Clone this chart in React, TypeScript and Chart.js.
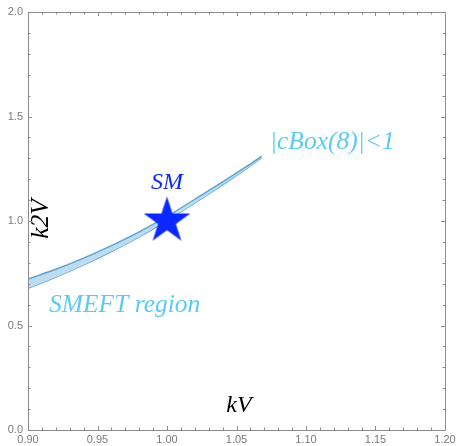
import { useEffect, useRef } from "react";
import { Chart, registerables } from "chart.js";

Chart.register(...registerables);

// Allowed band in the (kV, k2V) plane
const kV = [0.90, 0.92, 0.94, 0.96, 0.98, 1.00, 1.02, 1.04, 1.06, 1.068];
const k2VUpper = [0.722, 0.769, 0.822, 0.882, 0.948, 1.022, 1.104, 1.187, 1.273, 1.309];
const k2VLower = [0.678, 0.731, 0.790, 0.854, 0.924, 1.002, 1.086, 1.173, 1.263, 1.303];

// Standard Model point
const smKV = [1.0];
const smK2V = [1.0];

// Labelled axis ticks
const xMajorTicks = [0.90, 0.95, 1.00, 1.05, 1.10, 1.15, 1.20];
const yMajorTicks = [0.0, 0.5, 1.0, 1.5, 2.0];

const BAND_EDGE = "#5aa2cf";
const BAND_FILL = "#bddcf0";
const SM_BLUE = "#0a28ff";
const LIGHT_BLUE = "#5ccbf2";
const FRAME = "#8c8c8c";
const TICK_TEXT = "#7a7a7a";

type Note = {
  text: string;
  x: number;
  y: number;
  color: string;
  size: number;
  align: CanvasTextAlign;
  rotate?: boolean;
};

// In-plot annotations (data coordinates of the text baseline anchor)
const notes: Note[] = [
  { text: "SM", x: 1.0, y: 1.153, color: SM_BLUE, size: 24, align: "center" },
  { text: "|cBox(8)|<1", x: 1.0741, y: 1.344, color: LIGHT_BLUE, size: 25.5, align: "left" },
  { text: "SMEFT region", x: 0.9151, y: 0.5646, color: LIGHT_BLUE, size: 25.5, align: "left" },
  { text: "kV", x: 1.0518, y: 0.086, color: "#000000", size: 24, align: "center" },
  { text: "k2V", x: 0.9144, y: 1.0096, color: "#000000", size: 25.5, align: "center", rotate: true },
];

function makeStar(radius: number): HTMLCanvasElement {
  const size = Math.ceil(radius * 2 + 2);
  const c = document.createElement("canvas");
  c.width = size;
  c.height = size;
  const g = c.getContext("2d")!;
  const cx = size / 2;
  const cy = size / 2;
  const inner = radius * 0.382;
  g.beginPath();
  for (let i = 0; i < 10; i++) {
    const r = i % 2 === 0 ? radius : inner;
    const a = -Math.PI / 2 + (i * Math.PI) / 5;
    const px = cx + r * Math.cos(a);
    const py = cy + r * Math.sin(a);
    if (i === 0) g.moveTo(px, py);
    else g.lineTo(px, py);
  }
  g.closePath();
  g.fillStyle = SM_BLUE;
  g.fill();
  return c;
}

const isMajor = (v: number, list: number[]) => list.some((m) => Math.abs(m - v) < 1e-6);

const framePlugin = {
  id: "frameAndNotes",
  afterDatasetsDraw(chart: any) {
    const { ctx, scales } = chart;
    const xs = scales.x;
    const ys = scales.y;
    ctx.save();
    for (const n of notes) {
      const px = xs.getPixelForValue(n.x);
      const py = ys.getPixelForValue(n.y);
      ctx.font = `italic ${n.size}px "Liberation Serif", "Times New Roman", serif`;
      ctx.fillStyle = n.color;
      ctx.textAlign = n.align;
      ctx.textBaseline = "alphabetic";
      if (n.rotate) {
        ctx.save();
        ctx.translate(px, py);
        ctx.rotate(-Math.PI / 2);
        ctx.fillText(n.text, 0, 0);
        ctx.restore();
      } else {
        ctx.fillText(n.text, px, py);
      }
    }
    ctx.restore();
  },
  afterDraw(chart: any) {
    const { ctx, chartArea, scales } = chart;
    const { left, right, top, bottom } = chartArea;
    const xs = scales.x;
    const ys = scales.y;
    ctx.save();
    ctx.strokeStyle = FRAME;
    ctx.lineWidth = 1;
    ctx.beginPath();
    ctx.rect(Math.round(left) + 0.5, Math.round(top) + 0.5, Math.round(right - left), Math.round(bottom - top));
    ctx.stroke();
    ctx.beginPath();
    for (let i = 0; i <= 30; i++) {
      const v = 0.9 + i * 0.01;
      const len = isMajor(Math.round(v * 100) / 100, xMajorTicks) ? 4 : 2.5;
      const px = Math.round(xs.getPixelForValue(v)) + 0.5;
      ctx.moveTo(px, bottom);
      ctx.lineTo(px, bottom - len);
      ctx.moveTo(px, top);
      ctx.lineTo(px, top + len);
    }
    for (let i = 0; i <= 20; i++) {
      const v = i * 0.1;
      const len = isMajor(Math.round(v * 10) / 10, yMajorTicks) ? 4 : 2.5;
      const py = Math.round(ys.getPixelForValue(v)) + 0.5;
      ctx.moveTo(left, py);
      ctx.lineTo(left + len, py);
      ctx.moveTo(right, py);
      ctx.lineTo(right - len, py);
    }
    ctx.stroke();
    ctx.restore();
  },
};

export default function App() {
  const ref = useRef<HTMLCanvasElement | null>(null);

  useEffect(() => {
    if (!ref.current) return;
    const star = makeStar(24.5);
    const upper = kV.map((x, i) => ({ x, y: k2VUpper[i] }));
    const lower = kV.map((x, i) => ({ x, y: k2VLower[i] }));
    const sm = smKV.map((x, i) => ({ x, y: smK2V[i] }));

    const chart = new Chart(ref.current, {
      type: "line",
      data: {
        datasets: [
          {
            label: "SM",
            data: sm,
            showLine: false,
            pointStyle: star as any,
            pointRadius: 25,
            order: -1,
          },
          {
            label: "upper",
            data: upper,
            borderColor: BAND_EDGE,
            borderWidth: 1.4,
            backgroundColor: BAND_FILL,
            fill: "+1",
            pointRadius: 0,
            cubicInterpolationMode: "monotone",
          },
          {
            label: "lower",
            data: lower,
            borderColor: BAND_EDGE,
            borderWidth: 1.4,
            fill: false,
            pointRadius: 0,
            cubicInterpolationMode: "monotone",
          },
        ],
      },
      options: {
        animation: false,
        responsive: true,
        maintainAspectRatio: false,
        layout: { autoPadding: false, padding: { top: 12, right: 13, left: 0, bottom: 0 } },
        plugins: {
          legend: { display: false },
          tooltip: { enabled: false },
        },
        scales: {
          x: {
            type: "linear",
            min: 0.9,
            max: 1.2,
            grid: { display: false, drawTicks: false },
            border: { display: false },
            afterBuildTicks: (scale: any) => {
              scale.ticks = xMajorTicks.map((v) => ({ value: v }));
            },
            afterFit: (scale: any) => {
              scale.height = 16;
              scale.paddingLeft = 0;
              scale.paddingRight = 0;
            },
            ticks: {
              autoSkip: false,
              maxRotation: 0,
              padding: 3,
              color: TICK_TEXT,
              font: { family: '"Liberation Sans", Arial, sans-serif', size: 11 },
              callback: (v: any) => Number(v).toFixed(2),
            },
          },
          y: {
            type: "linear",
            min: 0,
            max: 2,
            grid: { display: false, drawTicks: false },
            border: { display: false },
            afterBuildTicks: (scale: any) => {
              scale.ticks = yMajorTicks.map((v) => ({ value: v }));
            },
            afterFit: (scale: any) => {
              scale.width = 28;
              scale.paddingTop = 0;
              scale.paddingBottom = 0;
            },
            ticks: {
              autoSkip: false,
              padding: 5,
              color: TICK_TEXT,
              font: { family: '"Liberation Sans", Arial, sans-serif', size: 11 },
              callback: (v: any) => Number(v).toFixed(1),
            },
          },
        },
      },
      plugins: [framePlugin],
    });
    return () => chart.destroy();
  }, []);

  return (
    <div style={{ position: "fixed", left: 0, top: 0, width: 458, height: 446, background: "#ffffff" }}>
      <canvas ref={ref} />
    </div>
  );
}
